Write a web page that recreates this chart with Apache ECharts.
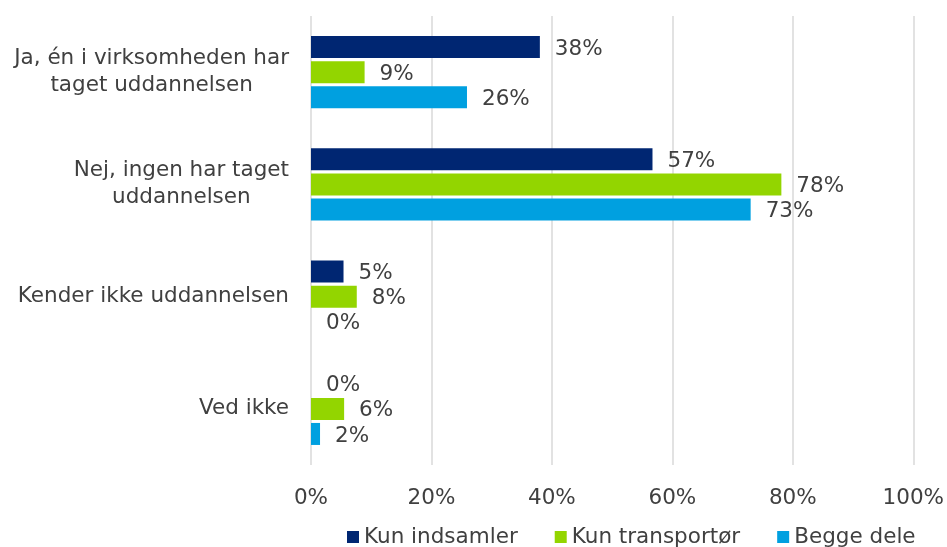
<!DOCTYPE html>
<html>
<head>
<meta charset="utf-8">
<script src="https://cdn.jsdelivr.net/npm/echarts@6/dist/echarts.min.js"></script>
<style>html,body{margin:0;padding:0;background:#fff}#c{width:947px;height:547px}</style>
</head>
<body>
<div id="c"></div>
<script>
const categories = [
  "Ja, én i virksomheden har\ntaget uddannelsen",
  "Nej, ingen har taget\nuddannelsen",
  "Kender ikke uddannelsen",
  "Ved ikke"
];
const seriesNames = ["Kun indsamler", "Kun transportør", "Begge dele"];
const kunIndsamler = [38.0, 56.7, 5.4, 0];
const kunTransportor = [8.9, 78.1, 7.6, 5.5];
const beggeDele = [25.9, 73.0, 0, 1.5];
const xTicks = [0, 20, 40, 60, 80, 100];
const colors = ["#002672", "#93d500", "#00a0e0"];

const FONT = "DejaVu Sans";
const FS = 21.5;
const TXT = "#404040";

const chart = echarts.init(document.getElementById('c'), null, {renderer: 'canvas'});
function mk(name, data, color) {
  return {
    name: name, type: 'bar', data: data, barWidth: 22, barGap: '14%',
    itemStyle: {color: color},
    label: {show: true, position: 'right', distance: 15, color: TXT,
      fontFamily: FONT, fontSize: FS, offset: [0, 2],
      formatter: p => Math.round(p.value) + '%'}
  };
}
chart.setOption({
  animation: false,
  textStyle: {fontFamily: FONT},
  grid: {left: 311, right: 29, top: 16, bottom: 82, containLabel: false},
  legend: {
    top: 521, left: 342, itemWidth: 12, itemHeight: 12, itemGap: 37,
    icon: 'rect',
    textStyle: {fontFamily: FONT, fontSize: FS, color: TXT},
    data: seriesNames
  },
  xAxis: {
    type: 'value', min: xTicks[0], max: xTicks[xTicks.length - 1], interval: xTicks[1] - xTicks[0],
    axisLine: {show: false}, axisTick: {show: false},
    splitLine: {show: true, lineStyle: {color: '#d9d9d9', width: 1.5}},
    axisLabel: {formatter: v => v + '%', color: TXT, fontFamily: FONT, fontSize: FS, margin: 22}
  },
  yAxis: {
    type: 'category', data: categories, inverse: true,
    axisLine: {show: false}, axisTick: {show: false},
    axisLabel: {
      color: TXT, fontFamily: FONT, fontSize: FS, margin: 22, lineHeight: 27,
      formatter: v => v.split('\n').map(s => '{c|' + s + '}').join('\n'),
      rich: {c: {align: 'center', color: TXT, fontFamily: FONT, fontSize: FS, lineHeight: 27}}
    }
  },
  series: [
    mk(seriesNames[0], kunIndsamler, colors[0]),
    mk(seriesNames[1], kunTransportor, colors[1]),
    mk(seriesNames[2], beggeDele, colors[2])
  ]
});
</script>
</body>
</html>
